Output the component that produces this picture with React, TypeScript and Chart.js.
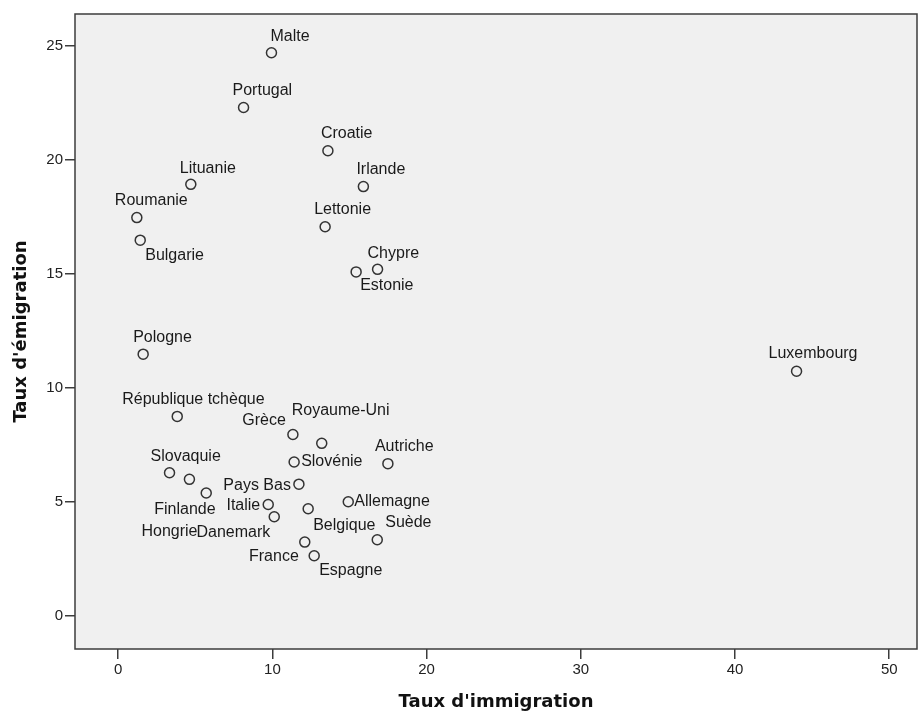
import React, { useEffect, useRef } from "react";
import { Chart, registerables } from "chart.js";

Chart.register(...registerables);

// ---- Data ----
const countries = [
  "Malte", "Portugal", "Croatie", "Lituanie", "Irlande", "Roumanie", "Bulgarie",
  "Lettonie", "Chypre", "Estonie", "Pologne", "République tchèque", "Grèce",
  "Royaume-Uni", "Autriche", "Slovénie", "Slovaquie", "Hongrie", "Finlande",
  "Pays Bas", "Italie", "Danemark", "Belgique", "France", "Espagne", "Allemagne",
  "Suède", "Luxembourg",
];
const immigration = [
  9.94, 8.13, 13.6, 4.71, 15.9, 1.21, 1.43,
  13.42, 16.82, 15.43, 1.62, 3.83, 11.33,
  13.2, 17.49, 11.41, 3.33, 4.62, 5.71,
  11.72, 9.73, 10.12, 12.32, 12.1, 12.71, 14.92,
  16.8, 43.99,
];
const emigration = [
  24.7, 22.3, 20.4, 18.93, 18.83, 17.47, 16.48,
  17.07, 15.2, 15.09, 11.48, 8.75, 7.96,
  7.57, 6.68, 6.75, 6.28, 5.99, 5.39,
  5.78, 4.89, 4.35, 4.7, 3.24, 2.64, 5.01,
  3.34, 10.73,
];
const xTickValues = [0, 10, 20, 30, 40, 50];
const yTickValues = [0, 5, 10, 15, 20, 25];
const xTitle = "Taux d'immigration";
const yTitle = "Taux d'émigration";

// label placement relative to each marker: [dx, dy, align]
const labelPlacement: [number, number, CanvasTextAlign][] = [
  [-1, -16, "left"], [-11, -17, "left"], [-7, -17, "left"], [-11, -16, "left"],
  [-7, -17, "left"], [-22, -17, "left"], [5, 15, "left"], [-11, -17, "left"],
  [-10, -16, "left"], [4, 14, "left"], [-10, -17, "left"], [-55, -17, "left"],
  [-7, -14, "right"], [-30, -33, "left"], [-13, -17, "left"], [7, 0, "left"],
  [-19, -16, "left"], [-48, 52, "left"], [-52, 17, "left"], [-8, 1, "right"],
  [-8, 1, "right"], [-4, 16, "right"], [5, 17, "left"], [-6, 15, "right"],
  [5, 15, "left"], [6, 0, "left"], [8, -17, "left"], [-28, -18, "left"],
];

const textFont = "'Liberation Sans', Arial, sans-serif";
const titleFont = "'DejaVu Sans', sans-serif";

const plotDecor = {
  id: "plotDecor",
  beforeDraw(chart: any) {
    const { ctx, chartArea: a } = chart;
    ctx.save();
    ctx.fillStyle = "#f0f0f0";
    ctx.fillRect(a.left, a.top, a.right - a.left, a.bottom - a.top);
    ctx.restore();
  },
  afterDraw(chart: any) {
    const { ctx, chartArea: a } = chart;
    ctx.save();
    ctx.strokeStyle = "#3c3c3c";
    ctx.lineWidth = 1.5;
    ctx.strokeRect(a.left, a.top, a.right - a.left, a.bottom - a.top);
    ctx.restore();
  },
};

const pointLabels = {
  id: "pointLabels",
  afterDatasetsDraw(chart: any) {
    const { ctx } = chart;
    const meta = chart.getDatasetMeta(0);
    ctx.save();
    ctx.font = `16px ${textFont}`;
    ctx.fillStyle = "#1a1a1a";
    ctx.textBaseline = "middle";
    meta.data.forEach((pt: any, i: number) => {
      const [dx, dy, align] = labelPlacement[i];
      ctx.textAlign = align;
      ctx.fillText(countries[i], pt.x + dx, pt.y + dy);
    });
    ctx.restore();
  },
};

export default function App() {
  const ref = useRef<HTMLCanvasElement | null>(null);

  useEffect(() => {
    if (!ref.current) return;
    const chart = new Chart(ref.current, {
      type: "scatter",
      data: {
        datasets: [
          {
            label: "Pays",
            data: immigration.map((x, i) => ({ x, y: emigration[i] })),
            pointStyle: "circle",
            pointRadius: 5,
            pointHoverRadius: 5,
            pointBorderWidth: 1.5,
            borderColor: "#333333",
            backgroundColor: "rgba(0,0,0,0)",
          },
        ],
      },
      options: {
        responsive: false,
        animation: false,
        layout: { autoPadding: false, padding: { top: 14, right: 1, left: 0, bottom: 0 } },
        plugins: {
          legend: { display: false },
          tooltip: { enabled: false },
        },
        scales: {
          x: {
            type: "linear",
            min: -2.8,
            max: 51.8,
            afterFit(scale: any) {
              scale.height = 65;
              scale.paddingLeft = 0;
              scale.paddingRight = 0;
            },
            afterBuildTicks(scale: any) {
              scale.ticks = xTickValues.map((v) => ({ value: v }));
            },
            ticks: {
              includeBounds: false,
              padding: 2,
              color: "#222",
              font: { family: textFont, size: 15 },
              callback: (v: any) => String(v),
              maxRotation: 0,
            },
            grid: {
              drawOnChartArea: false,
              drawTicks: true,
              tickLength: 10,
              color: "#3c3c3c",
              lineWidth: 1.5,
            },
            border: { display: false },
            title: {
              display: true,
              text: xTitle,
              color: "#111",
              font: { family: titleFont, size: 18, weight: "bold" },
              padding: { top: 0, bottom: 1 },
            },
          },
          y: {
            type: "linear",
            min: -1.45,
            max: 26.4,
            afterFit(scale: any) {
              scale.width = 75;
              scale.paddingTop = 0;
              scale.paddingBottom = 0;
            },
            afterBuildTicks(scale: any) {
              scale.ticks = yTickValues.map((v) => ({ value: v }));
            },
            ticks: {
              includeBounds: false,
              padding: 2,
              color: "#222",
              font: { family: textFont, size: 15 },
              callback: (v: any) => String(v),
            },
            grid: {
              drawOnChartArea: false,
              drawTicks: true,
              tickLength: 10,
              color: "#3c3c3c",
              lineWidth: 1.5,
            },
            border: { display: false },
            title: {
              display: true,
              text: yTitle,
              color: "#111",
              font: { family: titleFont, size: 18, weight: "bold" },
              padding: { top: 11, bottom: 0 },
            },
          },
        },
      },
      plugins: [plotDecor, pointLabels],
    });
    return () => chart.destroy();
  }, []);

  return (
    <div style={{ position: "absolute", left: 0, top: 0, width: 918, height: 714, background: "#fff" }}>
      <canvas ref={ref} width={918} height={714} style={{ display: "block" }} />
    </div>
  );
}
